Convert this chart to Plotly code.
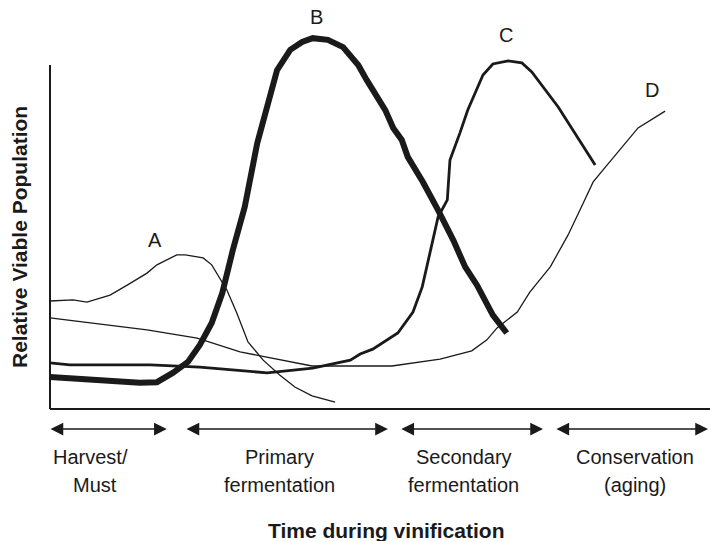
import plotly.graph_objects as go

# ---- data: relative viable population (0-100) against time during vinification (0-100)
a_time = [0, 3.5, 5.6, 9.1, 11.7, 14.7, 16.2, 19.2, 20.5, 23.2, 24.5, 26.8, 28.3, 30.0, 32.3, 34.8, 37.1, 39.7, 43.2]
a_pop = [31.4, 31.7, 31.1, 33.1, 36.0, 39.5, 41.9, 44.8, 44.8, 43.9, 41.9, 34.6, 27.9, 19.5, 14.2, 9.9, 6.4, 3.8, 2.0]

b_time = [0, 7.6, 13.6, 16.2, 18.6, 20.9, 22.7, 24.5, 26.1, 27.7, 29.5, 31.4, 32.9, 34.4, 36.4, 38.2, 39.8,
          42.1, 44.4, 46.7, 48.0, 50.8, 52.0, 53.3, 54.2, 56.5, 58.8, 61.1, 62.9, 64.7, 67.1, 69.2]
b_pop = [9.3, 8.4, 7.6, 7.8, 10.5, 13.7, 18.6, 25.0, 33.7, 46.2, 58.7, 77.3, 87.8, 98.5, 104.4, 106.7, 107.8,
         107.3, 105.2, 100.0, 95.6, 86.9, 81.7, 78.2, 73.3, 66.0, 57.8, 49.1, 41.3, 36.0, 27.3, 22.1]

c_time = [0, 3.0, 8.0, 15.2, 22.7, 27.7, 32.9, 39.8, 44.4, 45.5, 47.0, 48.9, 52.7, 55.0, 56.4, 57.6, 58.8,
          60.2, 60.6, 62.1, 63.3, 65.6, 67.1, 69.4, 71.5, 73.0, 77.0, 82.6]
c_pop = [13.4, 12.8, 12.8, 12.8, 12.2, 11.3, 10.5, 11.9, 13.7, 14.2, 16.0, 17.4, 22.1, 28.2, 35.5, 45.3, 55.8,
         60.8, 72.4, 80.2, 86.9, 97.1, 100.3, 101.2, 100.6, 98.0, 87.8, 70.9]

d_time = [0, 14.7, 22.3, 26.8, 28.8, 39.7, 51.8, 59.1, 63.9, 66.2, 67.7, 70.8, 72.7, 75.8, 78.5, 80.8, 82.3, 84.4, 89.1, 93.2]
d_pop = [26.5, 23.0, 20.6, 17.7, 16.6, 12.5, 12.5, 14.5, 16.9, 20.1, 23.5, 28.2, 34.0, 41.3, 50.6, 59.9, 66.0, 70.9, 81.7, 86.6]

curve_names = ["A", "B", "C", "D"]
curve_label_time = [15.9, 40.45, 69.1, 91.2]
curve_label_pop = [49.1, 113.95, 108.7, 92.7]

phase_start = [-0.15, 20.45, 53.0, 76.5]
phase_end = [17.7, 51.2, 74.7, 99.7]
phase_line1 = ["Harvest/", "Primary", "Secondary", "Conservation"]
phase_line2 = ["Must", "fermentation", "fermentation", "(aging)"]
phase_line1_x = [6.1, 34.8, 62.7, 88.6]
phase_line2_x = [6.8, 34.8, 62.7, 88.6]

# ---- page geometry (pixels)
W, H = 710, 541
X0_PX, PX_PER_T = 50, 6.6      # time origin and scale
Y0_PX, PX_PER_P = 409, 3.44    # population origin and scale

INK = "#1a1a1a"
FONT = "Liberation Sans, Arial, Helvetica, sans-serif"

fig = go.Figure()

series = [
    (a_time, a_pop, 1.3),
    (b_time, b_pop, 6.0),
    (c_time, c_pop, 2.8),
    (d_time, d_pop, 1.3),
]
for (t, p, w), name in zip(series, curve_names):
    fig.add_trace(go.Scatter(x=t, y=p, mode="lines", name=name,
                             line=dict(color=INK, width=w), showlegend=False,
                             hoverinfo="skip"))

annotations = []
# curve letters
for name, t, p in zip(curve_names, curve_label_time, curve_label_pop):
    annotations.append(dict(x=t, y=p, text=name, showarrow=False,
                            font=dict(family=FONT, size=20, color=INK)))

# phase arrows and captions
arrow_y = -(429 - Y0_PX) / PX_PER_P
line1_y = -(457 - Y0_PX) / PX_PER_P
line2_y = -(485 - Y0_PX) / PX_PER_P
for s, e, l1, l2, x1, x2 in zip(phase_start, phase_end, phase_line1, phase_line2,
                                  phase_line1_x, phase_line2_x):
    annotations.append(dict(x=e, y=arrow_y, ax=s, ay=arrow_y, axref="x", ayref="y",
                            xref="x", yref="y", text="", showarrow=True,
                            arrowhead=2, startarrowhead=2, arrowside="end+start",
                            arrowsize=1.5, startarrowsize=1.5, arrowwidth=1.7,
                            arrowcolor=INK, standoff=0, startstandoff=0))
    annotations.append(dict(x=x1, y=line1_y, text=l1, showarrow=False,
                            font=dict(family=FONT, size=20, color=INK)))
    annotations.append(dict(x=x2, y=line2_y, text=l2, showarrow=False,
                            font=dict(family=FONT, size=20, color=INK)))

# axis titles
annotations.append(dict(x=(386 - X0_PX) / PX_PER_T, y=-(530 - Y0_PX) / PX_PER_P,
                        text="<b>Time during vinification</b>", showarrow=False,
                        font=dict(family=FONT, size=21, color=INK)))
annotations.append(dict(x=(19 - X0_PX) / PX_PER_T, y=(Y0_PX - 237) / PX_PER_P,
                        text="<b>Relative Viable Population</b>", showarrow=False,
                        textangle=-90, font=dict(family=FONT, size=21, color=INK)))

# axis lines
shapes = [
    dict(type="line", x0=0, x1=0, y0=0, y1=100, xref="x", yref="y",
         line=dict(color=INK, width=2)),
    dict(type="line", x0=0, x1=(W - X0_PX) / PX_PER_T, y0=0, y1=0, xref="x", yref="y",
         line=dict(color=INK, width=2.2)),
]

fig.update_layout(
    width=W, height=H,
    margin=dict(l=0, r=0, t=0, b=0),
    paper_bgcolor="white", plot_bgcolor="white",
    xaxis=dict(visible=False, range=[-X0_PX / PX_PER_T, (W - X0_PX) / PX_PER_T]),
    yaxis=dict(visible=False, range=[-(H - Y0_PX) / PX_PER_P, Y0_PX / PX_PER_P]),
    annotations=annotations,
    shapes=shapes,
)

fig.write_html("out.html")
